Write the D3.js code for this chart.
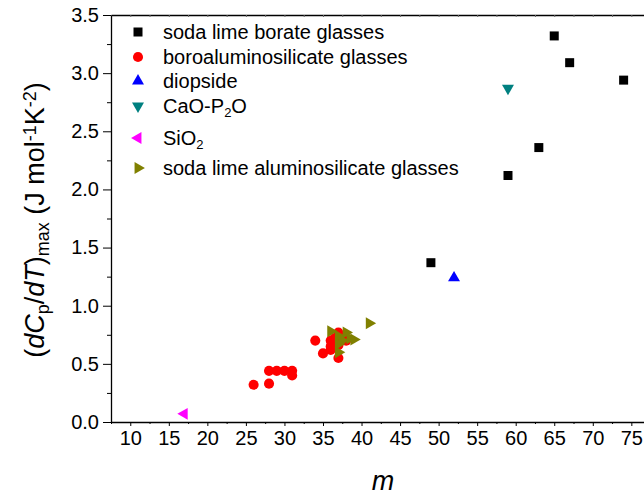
<!DOCTYPE html>
<html>
<head>
<meta charset="utf-8">
<script src="https://cdn.jsdelivr.net/npm/d3@7"></script>
<style>
  body { margin: 0; background: #fff; }
  svg { display: block; }
  text { font-family: "Liberation Sans", Arial, sans-serif; fill: #000; }
</style>
</head>
<body>
<div id="chart"></div>
<script>
// soda lime borate glasses
const borateM = [49, 59, 63, 65, 67, 74]
const borateV = [1.37, 2.12, 2.36, 3.32, 3.09, 2.94]
// boroaluminosilicate glasses
const boroM = [26, 28, 28, 29, 30, 31, 31, 34, 35, 36, 36, 36, 36.5, 37, 37, 37, 38]
const boroV = [0.32, 0.33, 0.44, 0.44, 0.44, 0.44, 0.40, 0.70, 0.59, 0.62, 0.65, 0.70, 0.72, 0.77, 0.55, 0.66, 0.70]
// diopside
const diopM = [52]
const diopV = [1.24]
// CaO-P2O
const capM = [59]
const capV = [2.87]
// SiO2
const sioM = [17]
const sioV = [0.07]
// soda lime aluminosilicate glasses
const slaM = [36, 37, 37, 37, 37.5, 38, 38.5, 39, 41]
const slaV = [0.78, 0.74, 0.67, 0.60, 0.70, 0.77, 0.72, 0.71, 0.85]

const xMajor = d3.range(10, 76, 5)
const yMajor = d3.range(0, 3.51, 0.5)

const width = 644, height = 500
const plotLeft = 111, plotRight = 650.6, plotTop = 15, plotBottom = 422

const svg = d3.select("#chart").append("svg")
  .attr("width", width)
  .attr("height", height)

const x = d3.scaleLinear().domain([7.5, 77.5]).range([plotLeft, plotRight])
const y = d3.scaleLinear().domain([0, 3.5]).range([plotBottom, plotTop])

// Axes
const xMinor = d3.range(7.5, 78, 2.5).filter(v => v % 5 !== 0)
const yMinor = d3.range(0.25, 3.5, 0.5)

svg.append("g")
  .attr("transform", `translate(0,${plotBottom})`)
  .call(d3.axisBottom(x).tickValues(xMinor).tickSize(2).tickFormat("").tickSizeOuter(0))
  .call(g => g.select(".domain").remove())

const xAxis = svg.append("g")
  .attr("transform", `translate(0,${plotBottom})`)
  .call(d3.axisBottom(x).tickValues(xMajor).tickSize(4).tickSizeOuter(0).tickPadding(5))
xAxis.selectAll("text").style("font-size", "20px")

// top axis (ticks inward)
svg.append("g")
  .attr("transform", `translate(0,${plotTop})`)
  .call(d3.axisTop(x).tickValues(d3.range(7.5, 78, 2.5)).tickSize(-2).tickFormat("").tickSizeOuter(0))
  .call(g => g.selectAll(".tick line").attr("stroke", "#666"))

svg.append("g")
  .attr("transform", `translate(${plotLeft},0)`)
  .call(d3.axisLeft(y).tickValues(yMinor).tickSize(4).tickFormat("").tickSizeOuter(0))
  .call(g => g.select(".domain").remove())

const yAxis = svg.append("g")
  .attr("transform", `translate(${plotLeft},0)`)
  .call(d3.axisLeft(y).tickValues(yMajor).tickSize(8).tickSizeOuter(0).tickPadding(4).tickFormat(d3.format(".1f")))
yAxis.selectAll("text").style("font-size", "20px")

svg.selectAll(".domain").attr("stroke-width", 1.3)

// Series
const series = [
  { name: "soda lime borate glasses", m: borateM, v: borateV, type: d3.symbolSquare, size: 81, rot: 0, color: "#000000" },
  { name: "boroaluminosilicate glasses", m: boroM, v: boroV, type: d3.symbolCircle, size: 80, rot: 0, color: "#ff0000" },
  { name: "diopside", m: diopM, v: diopV, type: d3.symbolTriangle, size: 62, rot: 0, color: "#0000ff" },
  { name: "CaO-P|2|O", m: capM, v: capV, type: d3.symbolTriangle, size: 62, rot: 180, color: "#008080" },
  { name: "SiO|2|", m: sioM, v: sioV, type: d3.symbolTriangle, size: 62, rot: -90, color: "#ff00ff" },
  { name: "soda lime aluminosilicate glasses", m: slaM, v: slaV, type: d3.symbolTriangle, size: 62, rot: 90, color: "#808000" }
]

series.forEach(s => {
  const sym = d3.symbol().type(s.type).size(s.size)
  svg.append("g").selectAll("path")
    .data(s.m.map((m, i) => [m, s.v[i]]))
    .join("path")
    .attr("d", sym)
    .attr("fill", s.color)
    .attr("transform", d => `translate(${x(d[0])},${y(d[1])}) rotate(${s.rot})`)
})

// Legend
const legendY = [32, 57, 81, 106, 138, 168]
series.forEach((s, i) => {
  const g = svg.append("g").attr("transform", `translate(138,${legendY[i]})`)
  g.append("path")
    .attr("d", d3.symbol().type(s.type).size(s.size))
    .attr("fill", s.color)
    .attr("transform", `rotate(${s.rot})`)
  const t = g.append("text")
    .attr("x", 25)
    .attr("y", 7)
    .style("font-size", "20px")
  s.name.split("|").forEach((part, j) => {
    if (!part) return
    t.append("tspan")
      .attr("baseline-shift", j % 2 ? "-30%" : null)
      .style("font-size", j % 2 ? "13px" : null)
      .text(part)
  })
})

// Axis titles
svg.append("text")
  .attr("x", 383)
  .attr("y", 490)
  .attr("text-anchor", "middle")
  .style("font-size", "27px")
  .style("font-style", "italic")
  .text("m")

const yt = svg.append("text")
  .attr("transform", "translate(44,220) rotate(-90)")
  .attr("text-anchor", "middle")
  .style("font-size", "27px")
const parts = [
  ["(", null, null], ["dC", "italic", null], ["p", null, "sub"], ["/", null, null],
  ["dT", "italic", null], [")", null, null], ["max", null, "sub"], [" (J mol", null, null],
  ["-1", null, "sup"], ["K", null, null], ["-2", null, "sup"], [")", null, null]
]
parts.forEach(([txt, style, pos]) => {
  const ts = yt.append("tspan").text(txt)
  if (style) ts.style("font-style", style)
  if (pos === "sub") ts.attr("baseline-shift", "-30%").style("font-size", "18px")
  if (pos === "sup") ts.attr("baseline-shift", "45%").style("font-size", "18px")
})
</script>
</body>
</html>
